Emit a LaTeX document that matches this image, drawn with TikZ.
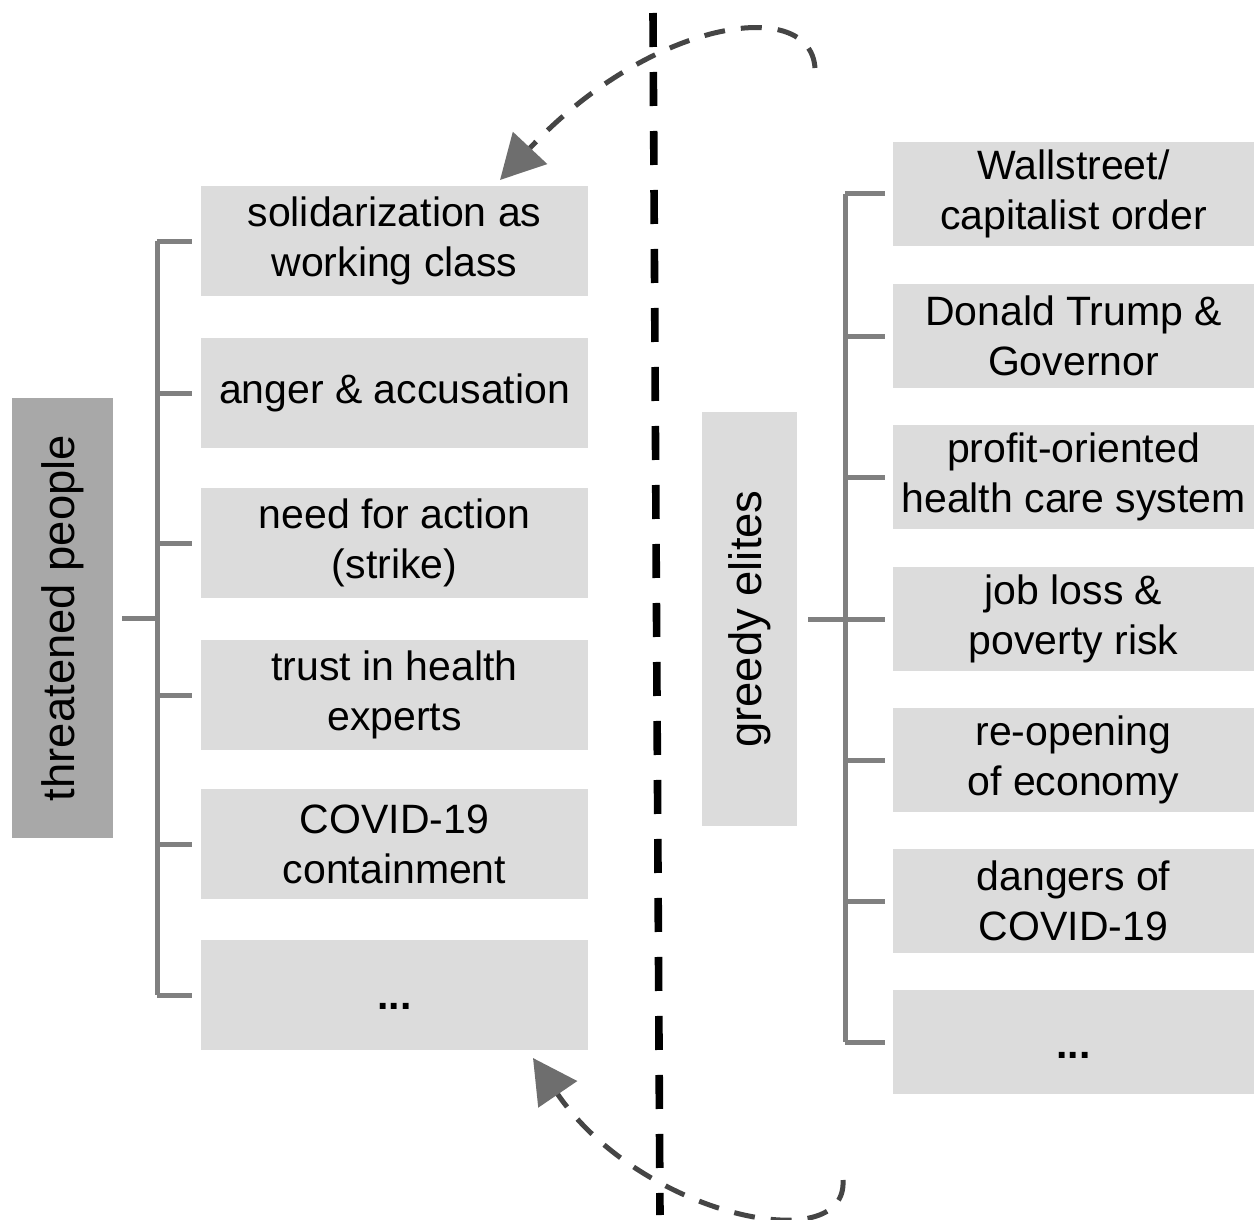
\documentclass[tikz,border=0pt]{standalone}
\usepackage{fontspec}
\setmainfont{Liberation Sans}
\usepackage{graphicx}
\usetikzlibrary{arrows.meta}
\definecolor{boxgray}{HTML}{DCDCDC}
\definecolor{darkbox}{HTML}{A8A8A8}
\definecolor{brgray}{HTML}{808080}
\definecolor{curvegray}{HTML}{454545}
\definecolor{tipgray}{HTML}{6E6E6E}
\tikzset{
  lbox/.style={fill=boxgray, draw=none, inner sep=0pt, align=center,
    minimum width=193.5pt, minimum height=55pt,
    font=\fontsize{20.5pt}{25pt}\selectfont},
  rbox/.style={lbox, minimum width=180.5pt, minimum height=52pt},
  br/.style={draw=brgray, line width=2.5pt},
  loop/.style={draw=curvegray, line width=2.5pt, dash pattern=on 10.5pt off 8pt,
    -{Triangle[length=22pt, width=23pt, fill=tipgray, color=tipgray]}},
  sep/.style={draw=black, line width=3.8pt, dash pattern=on 17pt off 12.5pt}
}
\begin{document}
\begin{tikzpicture}[x=0.5pt, y=-0.5pt]
\useasboundingbox (0,0) rectangle (1254,1220);
% separator
\draw[sep] (653,13) -- (660,1215);
% left group
\node[fill=darkbox, inner sep=0pt, minimum width=50.5pt, minimum height=220pt] (TP) at (62.5,618)
  {\rotatebox{90}{\fontsize{22.7pt}{27pt}\selectfont threatened people}};
\node[lbox] (L1) at (394.5,241) {solidarization as\\working class};
\node[lbox] (L2) at (394.5,393) {anger \& accusation};
\node[lbox] (L3) at (394.5,543) {need for action\\(strike)};
\node[lbox] (L4) at (394.5,695) {trust in health\\experts};
\node[lbox] (L5) at (394.5,844) {COVID-19\\containment};
\node[lbox] (L6) at (394.5,995) {\rule[-6pt]{0pt}{26pt}\textbf{...}};
\coordinate (LS) at (157,618);
\foreach \i in {1,...,6} \draw[br, shorten >=4.5pt] (LS |- L\i.west) -- (L\i.west);
\draw[br] (LS |- L1.west) -- (LS |- L6.west);
\draw[br, shorten <=4.5pt] (TP.east) -- (LS |- TP.east);
% right group
\node[fill=boxgray, inner sep=0pt, minimum width=47.5pt, minimum height=207pt] (GE) at (749.5,619)
  {\rotatebox{90}{\fontsize{22.7pt}{27pt}\selectfont greedy elites}};
\node[rbox] (R1) at (1073.5,194) {Wallstreet/\\capitalist order};
\node[rbox] (R2) at (1073.5,336) {Donald Trump \&\\Governor};
\node[rbox] (R3) at (1073.5,477) {profit-oriented\\health care system};
\node[rbox] (R4) at (1073.5,619) {job loss \&\\poverty risk};
\node[rbox] (R5) at (1073.5,760) {re-opening\\of economy};
\node[rbox] (R6) at (1073.5,901) {dangers of\\COVID-19};
\node[rbox] (R7) at (1073.5,1042) {\rule[-6pt]{0pt}{28pt}\textbf{...}};
\coordinate (RS) at (845,619);
\foreach \i in {1,...,7} \draw[br, shorten >=4pt] (RS |- R\i.west) -- (R\i.west);
\draw[br] (RS |- R1.west) -- (RS |- R7.west);
\draw[br, shorten <=5.5pt] (GE.east) -- (RS |- GE.east);
% loop arrows
\coordinate (U0) at (815,68);
\coordinate (U1) at (500,180);
\draw[loop] (U0) .. controls (810,-5) and (650,20) .. (U1);
\coordinate (D0) at (843,1180);
\coordinate (D1) at (533,1058);
\draw[loop] (D0) .. controls (848,1260) and (640,1215) .. (D1);
\end{tikzpicture}
\end{document}
